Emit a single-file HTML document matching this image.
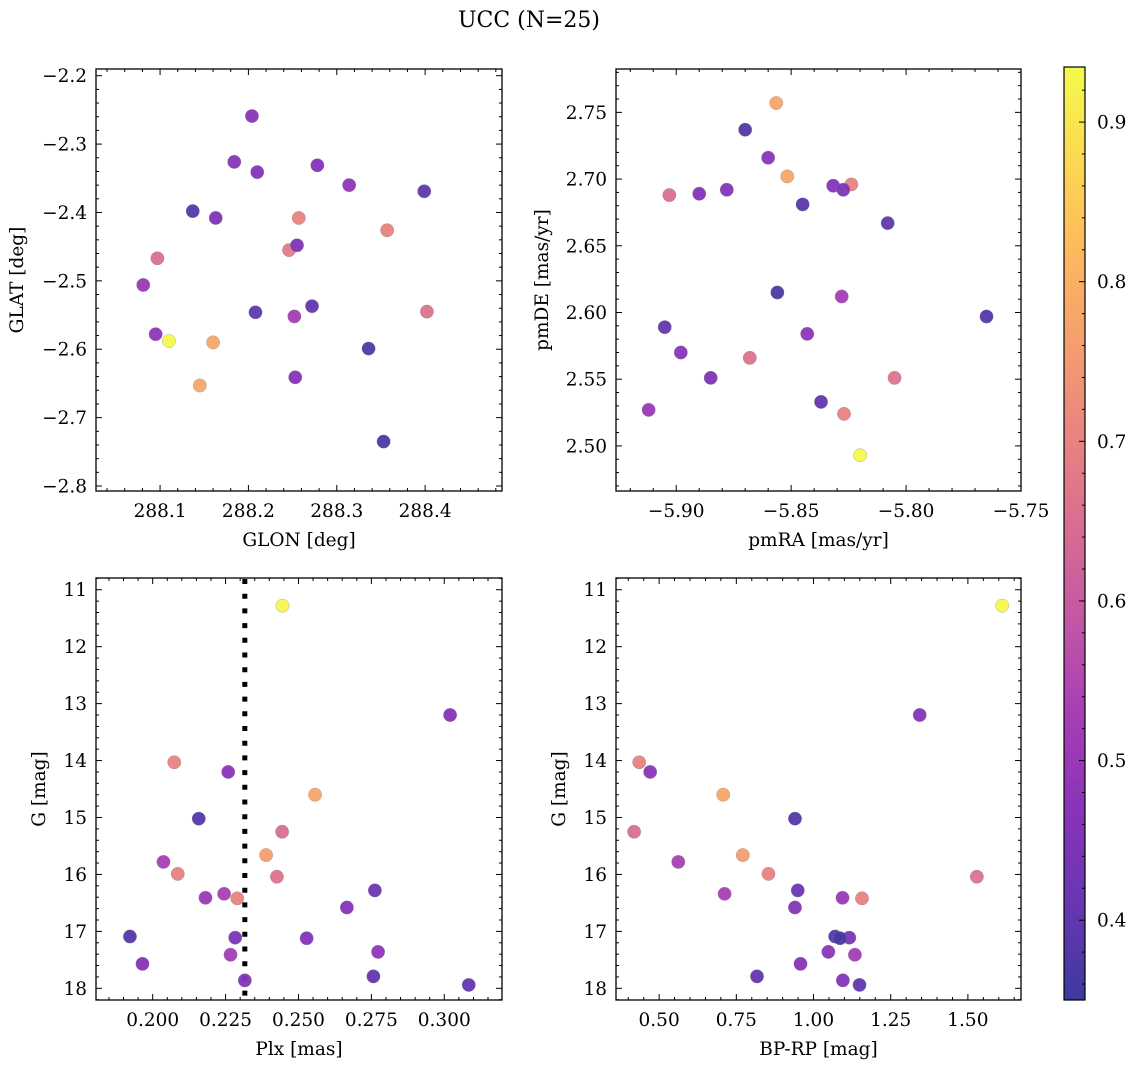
<!DOCTYPE html>
<html><head><meta charset="utf-8">
<style>
html,body{margin:0;padding:0;background:#fff;}
svg{display:block;font-family:"DejaVu Serif","Liberation Serif",serif;}
</style></head>
<body>
<svg id="fig" width="1136" height="1067" viewBox="0 0 1136 1067">
<text x="529" y="27" text-anchor="middle" font-size="22">UCC (N=25)</text>
</svg>
<script>
// ---- data (per panel) ----
const glon = [288.204,288.184,288.210,288.278,288.314,288.399,288.137,288.163,288.257,288.357,288.097,288.246,288.255,288.081,288.208,288.252,288.272,288.402,288.095,288.110,288.160,288.336,288.145,288.253,288.353];
const glat = [-2.259,-2.326,-2.341,-2.331,-2.360,-2.369,-2.398,-2.408,-2.408,-2.426,-2.467,-2.455,-2.448,-2.506,-2.546,-2.552,-2.537,-2.545,-2.578,-2.588,-2.590,-2.599,-2.653,-2.641,-2.735];
const probA = [0.47,0.47,0.46,0.46,0.48,0.40,0.38,0.45,0.70,0.70,0.65,0.68,0.45,0.50,0.40,0.52,0.40,0.66,0.48,0.93,0.78,0.38,0.78,0.46,0.37];

const pmra = [-5.8565,-5.870,-5.860,-5.8517,-5.8238,-5.8317,-5.8273,-5.903,-5.890,-5.878,-5.845,-5.808,-5.856,-5.828,-5.765,-5.905,-5.843,-5.898,-5.868,-5.885,-5.805,-5.912,-5.837,-5.827,-5.820];
const pmde = [2.757,2.737,2.716,2.702,2.696,2.695,2.692,2.688,2.689,2.692,2.681,2.667,2.615,2.612,2.597,2.589,2.584,2.570,2.566,2.551,2.551,2.527,2.533,2.524,2.493];
const probB = [0.78,0.38,0.47,0.78,0.70,0.46,0.45,0.65,0.46,0.46,0.39,0.40,0.37,0.52,0.38,0.40,0.48,0.47,0.66,0.45,0.66,0.50,0.40,0.70,0.93];

const plx = [0.2445,0.3020,0.2074,0.2259,0.2557,0.2158,0.2444,0.2389,0.2037,0.2086,0.2426,0.2762,0.2245,0.2181,0.2290,0.2666,0.1922,0.2283,0.2528,0.2267,0.2773,0.1965,0.2757,0.2316,0.3084];
const gmag = [11.28,13.20,14.03,14.20,14.60,15.02,15.25,15.66,15.78,15.99,16.04,16.28,16.34,16.41,16.42,16.58,17.09,17.11,17.12,17.41,17.36,17.57,17.79,17.86,17.94];
const probC = [0.93,0.46,0.70,0.47,0.78,0.38,0.65,0.76,0.53,0.70,0.66,0.42,0.53,0.50,0.70,0.46,0.38,0.44,0.46,0.52,0.48,0.46,0.40,0.46,0.40];
const plxRef = 0.2316;

const bprp = [1.611,1.344,0.4355,0.471,0.7075,0.940,0.419,0.771,0.562,0.854,1.529,0.949,0.712,1.094,1.157,0.940,1.070,1.116,1.086,1.134,1.048,0.958,0.817,1.095,1.149];
const gmagD = [11.28,13.20,14.03,14.20,14.60,15.02,15.25,15.66,15.78,15.99,16.04,16.28,16.34,16.41,16.42,16.58,17.09,17.11,17.12,17.41,17.36,17.57,17.79,17.86,17.94];
const probD = [0.93,0.46,0.70,0.47,0.78,0.38,0.65,0.76,0.53,0.70,0.66,0.42,0.53,0.50,0.70,0.46,0.38,0.44,0.36,0.52,0.48,0.46,0.40,0.46,0.40];

const ticksGlon = [288.1,288.2,288.3,288.4];
const ticksGlat = [-2.2,-2.3,-2.4,-2.5,-2.6,-2.7,-2.8];
const ticksPmra = [-5.90,-5.85,-5.80,-5.75];
const ticksPmde = [2.50,2.55,2.60,2.65,2.70,2.75];
const ticksPlx = [0.200,0.225,0.250,0.275,0.300];
const ticksG = [11,12,13,14,15,16,17,18];
const ticksBprp = [0.50,0.75,1.00,1.25,1.50];
const ticksCbar = [0.4,0.5,0.6,0.7,0.8,0.9];
const cmin = 0.35, cmax = 0.9345;

// ---- helpers ----
const NS = "http://www.w3.org/2000/svg";
const svg = document.getElementById('fig');
const FS = 18.5;
function mk(tag, attrs, parent){
  const e = document.createElementNS(NS, tag);
  for (const k in attrs) e.setAttribute(k, attrs[k]);
  (parent||svg).appendChild(e);
  return e;
}
const plasma = [[13,8,135],[65,4,157],[106,0,168],[143,13,164],[177,42,144],[204,71,120],[225,100,98],[242,132,75],[252,166,54],[252,206,37],[240,249,33]];
function cmap(v){
  let t = (v-cmin)/(cmax-cmin); t = Math.max(0,Math.min(1,t));
  const f = t*10, i = Math.min(9,Math.floor(f)), r = f-i;
  const a = plasma[i], b = plasma[i+1];
  const c = [0,1,2].map(k => Math.round((a[k]+(b[k]-a[k])*r)*0.8 + 255*0.2));
  return `rgb(${c[0]},${c[1]},${c[2]})`;
}
function lin(d0,d1,r0,r1){ return v => r0 + (v-d0)/(d1-d0)*(r1-r0); }

function panel(cfg){
  const {L,T,R,B,xd,yd,xt,yt,xfmt,yfmt,xsub,ysub,xlab,ylab,ylabX,xs,ys,cs,name} = cfg;
  const g = mk('g',{});
  
  
  const X = lin(xd[0],xd[1],L,R), Y = lin(yd[0],yd[1],B,T);
  const step = (xt[1]-xt[0]);
  for (let k=-10;k<(xt.length+10)*xsub;k++){
    const v = xt[0] + k*step/xsub; const px = X(v);
    if (px < L-0.5 || px > R+0.5) continue;
    const len = (((k%xsub)+xsub)%xsub===0)?6:3;
    mk('line',{x1:px,x2:px,y1:B,y2:B-len,stroke:'#000','stroke-width':1},g);
    mk('line',{x1:px,x2:px,y1:T,y2:T+len,stroke:'#000','stroke-width':1},g);
  }
  const ystep = (yt[1]-yt[0]);
  for (let k=-10*ysub;k<(yt.length+10)*ysub;k++){
    const v = yt[0] + k*ystep/ysub; const py = Y(v);
    if (py < T-0.5 || py > B+0.5) continue;
    const len = (((k%ysub)+ysub)%ysub===0)?6:3;
    mk('line',{x1:L,x2:L+len,y1:py,y2:py,stroke:'#000','stroke-width':1},g);
    mk('line',{x1:R,x2:R-len,y1:py,y2:py,stroke:'#000','stroke-width':1},g);
  }
  xt.forEach(v=>{
    const t = mk('text',{x:X(v),y:B+26,'text-anchor':'middle','font-size':FS},g);
    t.textContent = xfmt(v);
    
    
  });
  yt.forEach(v=>{
    const t = mk('text',{x:L-9,y:Y(v)+6.5,'text-anchor':'end','font-size':FS},g);
    t.textContent = yfmt(v);
    
    
  });
  const xl = mk('text',{x:(L+R)/2,y:B+55,'text-anchor':'middle','font-size':FS},g);
  xl.textContent = xlab;
  
  
  const yl = mk('text',{x:ylabX,y:(T+B)/2,'text-anchor':'middle','font-size':FS,transform:`rotate(-90 ${ylabX} ${(T+B)/2})`},g);
  yl.textContent = ylab;
  
  
  if (cfg.extra) cfg.extra(g,X,Y);
  xs.forEach((v,i)=>{
    const c = mk('circle',{cx:X(v),cy:Y(ys[i]),r:6.7,fill:cmap(cs[i]),'fill-opacity':0.95,stroke:'#888','stroke-width':0.5,'stroke-opacity':0.6},g);
    
    
  });
  mk('rect',{x:L,y:T,width:R-L,height:B-T,fill:'none',stroke:'#000','stroke-width':1.3},g);
}

const f1 = v=>v.toFixed(1).replace('-','\u2212');
const f2 = v=>v.toFixed(2).replace('-','\u2212');
const f3 = v=>v.toFixed(3);
const f0 = v=>String(v);

panel({name:'glon-glat-panel',L:96,T:69,R:502,B:491,xd:[288.0275,288.487],yd:[-2.8073,-2.1902],
  xt:ticksGlon,yt:ticksGlat,xfmt:f1,yfmt:f1,xsub:5,ysub:5,xlab:'GLON [deg]',ylab:'GLAT [deg]',ylabX:23,
  xs:glon,ys:glat,cs:probA});
panel({name:'pm-panel',L:616,T:69,R:1021,B:491,xd:[-5.9262,-5.75],yd:[2.4662,2.7825],
  xt:ticksPmra,yt:ticksPmde,xfmt:f2,yfmt:f2,xsub:5,ysub:5,xlab:'pmRA [mas/yr]',ylab:'pmDE [mas/yr]',ylabX:548,
  xs:pmra,ys:pmde,cs:probB});
panel({name:'plx-g-panel',L:96,T:578,R:502,B:1000,xd:[0.18056,0.3198],yd:[18.205,10.794],
  xt:ticksPlx,yt:ticksG,xfmt:f3,yfmt:f0,xsub:5,ysub:5,xlab:'Plx [mas]',ylab:'G [mag]',ylabX:45,
  xs:plx,ys:gmag,cs:probC,
  extra:(g,X,Y)=>{
    const l = mk('line',{x1:X(plxRef),x2:X(plxRef),y1:579,y2:1000,stroke:'#000','stroke-width':5,'stroke-dasharray':'5 9.7'},g);
    
    
  }});
panel({name:'cmd-panel',L:616,T:578,R:1021,B:1000,xd:[0.3603,1.672],yd:[18.205,10.794],
  xt:ticksBprp,yt:ticksG,xfmt:f2,yfmt:f0,xsub:5,ysub:5,xlab:'BP-RP [mag]',ylab:'G [mag]',ylabX:565,
  xs:bprp,ys:gmagD,cs:probD});

// ---- colorbar ----
(function(){
  const L=1064,R=1085,T=67,B=1000;
  const g = mk('g',{});
  
  
  const defs = mk('defs',{},g);
  const lg = mk('linearGradient',{id:'cbg',x1:0,y1:1,x2:0,y2:0},defs);
  for (let i=0;i<=20;i++){
    const v = cmin + (cmax-cmin)*i/20;
    mk('stop',{offset:(i/20),'stop-color':cmap(v)},lg);
  }
  mk('rect',{x:L,y:T,width:R-L,height:B-T,fill:'url(#cbg)'},g);
  const Y = lin(cmin,cmax,B,T);
  for (let k=-5;k<=30;k++){
    const v = 0.4 + k*0.02; const py = Y(v);
    if (py<T||py>B) continue;
    const len = (((k%5)+5)%5===0)?6:3;
    mk('line',{x1:R,x2:R-len,y1:py,y2:py,stroke:'#000','stroke-width':1},g);
  }
  ticksCbar.forEach(v=>{
    const t = mk('text',{x:R+12,y:Y(v)+6.5,'font-size':FS},g);
    t.textContent = v.toFixed(1);
    
    
  });
  mk('rect',{x:L,y:T,width:R-L,height:B-T,fill:'none',stroke:'#000','stroke-width':1.2},g);
})();
</script>
</body></html>
